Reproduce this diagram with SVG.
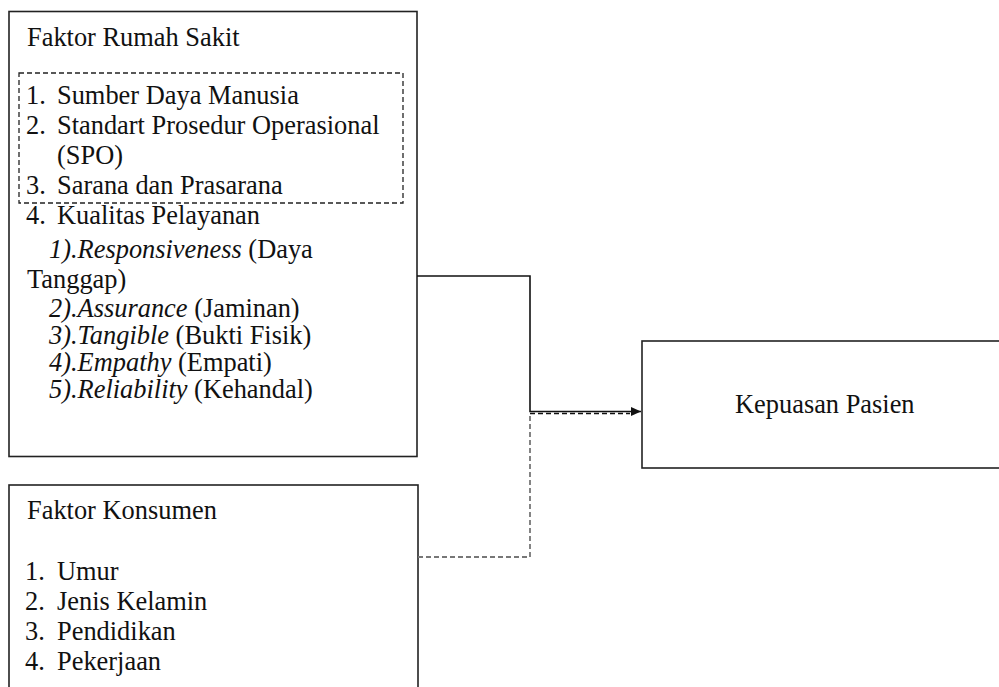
<svg xmlns="http://www.w3.org/2000/svg" width="999" height="687" viewBox="0 0 999 687">
<defs>
<style>
.t{font-family:'Liberation Serif','Times New Roman','DejaVu Serif',serif;font-size:26.4px;fill:#111}
.it{font-style:italic}
.box{fill:#fff;stroke:#222;stroke-width:1.6}
.dbox{fill:none;stroke:#222;stroke-width:1.3;stroke-dasharray:5 3}
.solid{fill:none;stroke:#111;stroke-width:1.6}
.dash{fill:none;stroke:#777;stroke-width:1.8;stroke-dasharray:5 3}
.dashk{fill:none;stroke:#111;stroke-width:1.6;stroke-dasharray:5 3}
</style>
<marker id="arr" viewBox="0 0 10 10" refX="10" refY="5" markerWidth="11" markerHeight="10" markerUnits="userSpaceOnUse" orient="auto">
<path d="M0,0.5 L10,5 L0,9.5 z" fill="#111"/>
</marker>
</defs>
<rect width="999" height="687" fill="#fff"/>
<g id="faktor-rumah-sakit">
<rect class="box" x="9" y="11.5" width="408" height="445"/>
<rect class="dbox" x="19" y="73" width="384" height="130"/>
<g class="t" font-family="Liberation Serif, Times New Roman, serif">
<text x="27" y="46">Faktor Rumah Sakit</text>
<text x="26" y="104">1.</text><text x="57" y="104">Sumber Daya Manusia</text>
<text x="26" y="134">2.</text><text x="57" y="134">Standart Prosedur Operasional</text>
<text x="57" y="164">(SPO)</text>
<text x="26" y="194">3.</text><text x="57" y="194">Sarana dan Prasarana</text>
<text x="26" y="224">4.</text><text x="57" y="224">Kualitas Pelayanan</text>
<text x="49" y="258"><tspan class="it">1).Responsiveness</tspan> (Daya</text>
<text x="27" y="288">Tanggap)</text>
<text x="49" y="317"><tspan class="it">2).Assurance</tspan> (Jaminan)</text>
<text x="49" y="344"><tspan class="it">3).Tangible</tspan> (Bukti Fisik)</text>
<text x="49" y="371"><tspan class="it">4).Empathy</tspan> (Empati)</text>
<text x="49" y="398"><tspan class="it">5).Reliability</tspan> (Kehandal)</text>
</g>
</g>
<g id="faktor-konsumen">
<rect class="box" x="9" y="485" width="409" height="230"/>
<g class="t" font-family="Liberation Serif, Times New Roman, serif">
<text x="27" y="519">Faktor Konsumen</text>
<text x="25" y="580">1.</text><text x="57" y="580">Umur</text>
<text x="25" y="610">2.</text><text x="57" y="610">Jenis Kelamin</text>
<text x="25" y="640">3.</text><text x="57" y="640">Pendidikan</text>
<text x="25" y="670">4.</text><text x="57" y="670">Pekerjaan</text>
</g>
</g>
<g id="kepuasan-pasien">
<rect class="box" x="642" y="341" width="380" height="127"/>
<text class="t" font-family="Liberation Serif, Times New Roman, serif" x="735" y="413">Kepuasan Pasien</text>
</g>
<g id="connectors">
<path class="dash" d="M418,557 H530 V414"/>
<path class="dashk" d="M530,413.5 H630"/>
<path class="solid" d="M417,276 H530 V411.5 H641" marker-end="url(#arr)"/>
</g>
</svg>
